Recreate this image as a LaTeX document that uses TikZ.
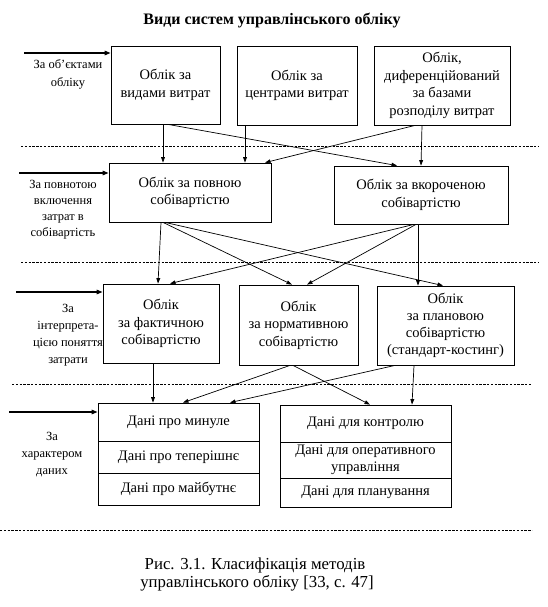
\documentclass[tikz,border=0pt]{standalone}
\usepackage{fontspec}
\setmainfont{Liberation Serif}
\usetikzlibrary{arrows.meta}
\begin{document}
\begin{tikzpicture}[x=1pt,y=-1pt,
  box/.style={draw, line width=0.8pt, align=center, inner sep=0pt,
    font=\fontsize{14.5}{17.5}\selectfont},
  lab/.style={align=center, inner sep=0pt, font=\fontsize{12.5}{17}\selectfont},
  conn/.style={line width=0.7pt, -{Triangle[length=5.5pt,width=3.8pt]}},
  leftarr/.style={line width=1.3pt, -{Triangle[length=6pt,width=4.5pt]}},
  sepline/.style={line width=1pt, dash pattern=on 2.4pt off 1.4pt}]
\useasboundingbox (0,0) rectangle (548,607);
\fill[white] (0,0) rectangle (548,607);

% title
\node[inner sep=0pt, font=\fontsize{16}{19}\selectfont\bfseries] (title) at (272,21) {Види систем управлінського обліку};

% row 1
\node[box, minimum width=109pt, minimum height=78pt] (A) at (165.5,85) {Облік за\\видами витрат};
\node[box, minimum width=120pt, minimum height=79pt] (B) at (297,85.5) {Облік за\\центрами витрат};
\node[box, minimum width=136pt, minimum height=79pt] (C) at (442,85.5) {Облік,\\диференційований\\за базами\\розподілу витрат};

% row 2
\node[box, minimum width=162pt, minimum height=59pt] (P1) at (190,192.5) {Облік за повною\\собівартістю};
\node[box, minimum width=174pt, minimum height=58pt] (P2) at (421,195) {Облік за вкороченою\\собівартістю};

% row 3
\node[box, minimum width=116pt, minimum height=79pt] (F) at (161,323.5) {Облік\\за фактичною\\собівартістю};
\node[box, minimum width=119pt, minimum height=80pt] (N) at (298.5,325) {Облік\\за нормативною\\собівартістю};
\node[box, minimum width=137pt, minimum height=79pt, font=\fontsize{14.5}{17}\selectfont] (S) at (445.5,325.5) {Облік\\за плановою\\собівартістю\\(стандарт-костинг)};

% row 4
\node[box, minimum width=161pt, minimum height=38pt] (D1a) at (178.5,422) {Дані про минуле};
\node[box, minimum width=161pt, minimum height=32pt] (D1b) at (178.5,457) {Дані про теперішнє};
\node[box, minimum width=161pt, minimum height=32pt] (D1c) at (178.5,489) {Дані про майбутнє};
\node[box, minimum width=171pt, minimum height=37pt] (D2a) at (365.5,423.5) {Дані для контролю};
\node[box, minimum width=171pt, minimum height=36pt, font=\fontsize{14.5}{16.5}\selectfont] (D2b) at (365.5,460) {Дані для оперативного\\управління};
\node[box, minimum width=171pt, minimum height=29pt] (D2c) at (365.5,492.5) {Дані для планування};

% left labels
\node[lab, font=\fontsize{12.5}{18}\selectfont] (L1) at (68,74) {За об’єктами\\обліку};
\node[lab, font=\fontsize{12.5}{16}\selectfont] (L2) at (63,210) {За повнотою\\включення\\затрат в\\собівартість};
\node[lab] (L3) at (68,335.5) {За\\інтерпрета-\\цією поняття\\затрати};
\node[lab] (L4) at (52,455) {За\\характером\\даних};

% left arrows
\coordinate (s1) at (24,53);
\coordinate (s2) at (19,173);
\coordinate (s3) at (16,292);
\coordinate (s4) at (9,412);
\draw[leftarr] (s1) -- (s1 -| A.west);
\draw[leftarr] (s2) -- (s2 -| P1.west);
\draw[leftarr] (s3) -- (s3 -| F.west);
\draw[leftarr] (s4) -- (s4 -| D1a.west);

% dashed separators
\coordinate (d1a) at (21,146);  \coordinate (d1b) at (538,146);
\coordinate (d2a) at (21,262);  \coordinate (d2b) at (538,262);
\coordinate (d3a) at (12,384);  \coordinate (d3b) at (531,384);
\coordinate (d4a) at (0,530);   \coordinate (d4b) at (532,530);
\draw[sepline] (d1a) -- (d1b);
\draw[sepline] (d2a) -- (d2b);
\draw[sepline] (d3a) -- (d3b);
\draw[sepline] (d4a) -- (d4b);

% row 1 -> row 2
\draw[conn] ([xshift=-2.5pt]A.south) -- ([xshift=-27pt]P1.north);
\draw[conn] ([xshift=2.5pt]A.south) -- ([xshift=-24pt]P2.north);
\draw[conn] ([xshift=-52pt]B.south) -- ([xshift=55pt]P1.north);
\draw[conn] ([xshift=-27pt]C.south) -- ([xshift=75pt]P1.north);
\draw[conn] ([xshift=-20pt]C.south) -- ([xshift=0pt]P2.north);

% row 2 -> row 3
\draw[conn] ([xshift=-29pt]P1.south) -- ([xshift=-3pt]F.north);
\draw[conn] ([xshift=-27pt]P1.south) -- ([xshift=-6.5pt]N.north);
\draw[conn] ([xshift=-25pt]P1.south) -- ([xshift=-2.5pt]S.north);
\draw[conn] ([xshift=-7pt]P2.south) -- ([xshift=9pt]F.north);
\draw[conn] ([xshift=-5pt]P2.south) -- ([xshift=8.5pt]N.north);
\draw[conn] ([xshift=-3pt]P2.south) -- ([xshift=-27.5pt]S.north);

% row 3 -> row 4
\draw[conn] ([xshift=-8pt]F.south) -- ([xshift=-25.5pt]D1a.north);
\draw[conn] ([xshift=-8.5pt]N.south) -- ([xshift=4.5pt]D1a.north);
\draw[conn] ([xshift=-5.5pt]N.south) -- ([xshift=4.5pt]D2a.north);
\draw[conn] ([xshift=-50.5pt]S.south) -- ([xshift=51.5pt]D1a.north);
\draw[conn] ([xshift=-31.5pt]S.south) -- ([xshift=46.5pt]D2a.north);

% caption
\node[inner sep=0pt, font=\fontsize{16.8}{18}\selectfont] (cap1) at (255,565) {Рис. 3.1. Класифікація методів};
\node[inner sep=0pt, font=\fontsize{16.8}{18}\selectfont] (cap2) at (257,583) {управлінського обліку [33, с. 47]};
\end{tikzpicture}
\end{document}
